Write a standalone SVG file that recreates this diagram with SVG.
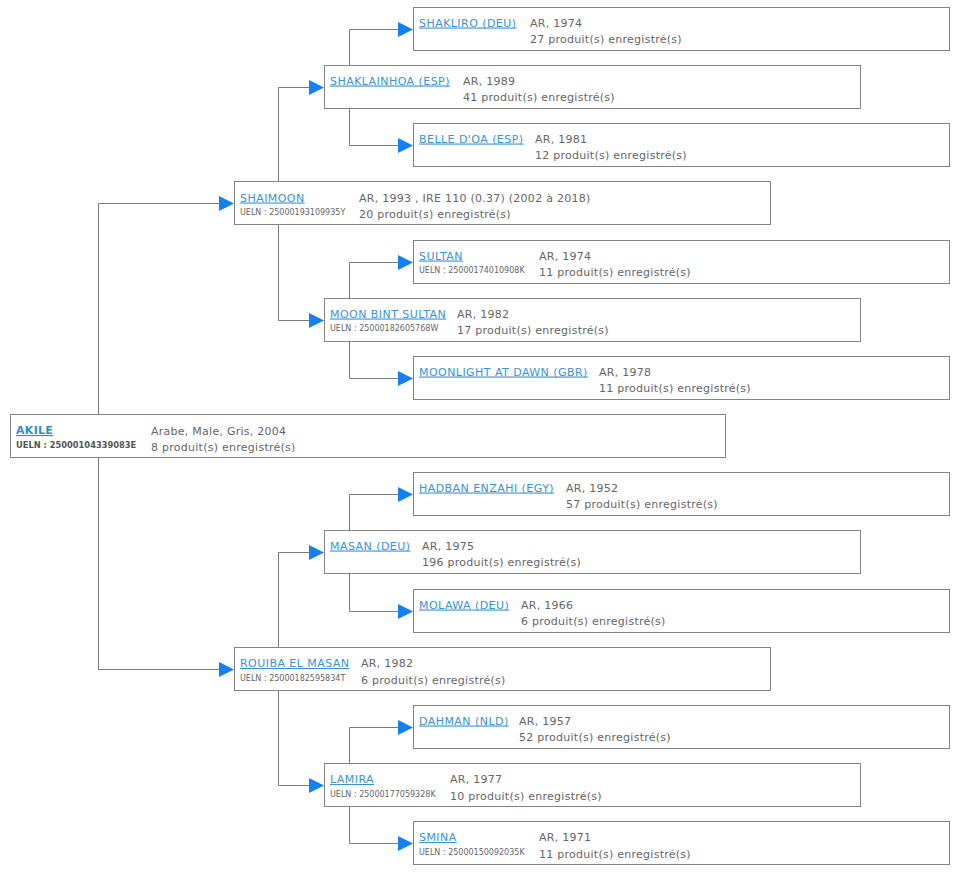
<svg xmlns="http://www.w3.org/2000/svg" width="959" height="876" viewBox="0 0 959 876">
<defs>
<marker id="arr" viewBox="0 0 15 15" refX="0" refY="7.5" markerWidth="15" markerHeight="15" markerUnits="userSpaceOnUse" orient="auto">
<path d="M0 0 L15 7.5 L0 15 Z" fill="#1580ef"/>
</marker>
<style>
.box{fill:#fff;stroke:#848484;stroke-width:1}
.nm{font-family:"DejaVu Sans",Verdana,sans-serif;font-size:11px;letter-spacing:0.45px;fill:#3a93d3;text-decoration:underline}
.nmb{font-family:"DejaVu Sans",Verdana,sans-serif;font-size:11px;letter-spacing:0.3px;font-weight:bold;fill:#2b8fcb;text-decoration:underline}
.in{font-family:"DejaVu Sans",Verdana,sans-serif;font-size:11px;letter-spacing:0.26px;fill:#666}
.ue{font-family:"DejaVu Sans",Verdana,sans-serif;font-size:8px;fill:#666}
.ueb{font-family:"DejaVu Sans",Verdana,sans-serif;font-size:8.3px;font-weight:bold;fill:#555}
.con{fill:none;stroke:#7a7a7a;stroke-width:1;marker-end:url(#arr)}
</style>
</defs>
<rect width="959" height="876" fill="#fff"/>
<g id="connectors">
<path class="con" d="M98.5 414 V203.5 H219"/>
<path class="con" d="M98.5 458 V669.5 H219"/>
<path class="con" d="M278.5 181 V87.5 H309"/>
<path class="con" d="M278.5 225 V320.5 H309"/>
<path class="con" d="M278.5 647 V552.5 H309"/>
<path class="con" d="M278.5 691 V785.5 H309"/>
<path class="con" d="M349.5 65 V29.5 H398"/>
<path class="con" d="M349.5 109 V145.5 H398"/>
<path class="con" d="M349.5 298 V262.5 H398"/>
<path class="con" d="M349.5 342 V378.5 H398"/>
<path class="con" d="M349.5 530 V494.5 H398"/>
<path class="con" d="M349.5 574 V611.5 H398"/>
<path class="con" d="M349.5 763 V727.5 H398"/>
<path class="con" d="M349.5 807 V843.5 H398"/>
</g>
<g id="shakliro">
<rect class="box" x="413.5" y="7.5" width="536" height="43"/>
<text class="nm" x="419" y="26.5">SHAKLIRO (DEU)</text>
<text class="in" x="530" y="26.5">AR, 1974</text>
<text class="in" x="530" y="43">27 produit(s) enregistré(s)</text>
</g>
<g id="shaklainhoa">
<rect class="box" x="324.5" y="65.5" width="536" height="43"/>
<text class="nm" x="330" y="84.5">SHAKLAINHOA (ESP)</text>
<text class="in" x="463" y="84.5">AR, 1989</text>
<text class="in" x="463" y="101">41 produit(s) enregistré(s)</text>
</g>
<g id="belle">
<rect class="box" x="413.5" y="123.5" width="536" height="43"/>
<text class="nm" x="419" y="142.5">BELLE D'OA (ESP)</text>
<text class="in" x="535" y="142.5">AR, 1981</text>
<text class="in" x="535" y="159">12 produit(s) enregistré(s)</text>
</g>
<g id="shaimoon">
<rect class="box" x="234.5" y="181.5" width="536" height="43"/>
<text class="nm" x="240" y="201.5">SHAIMOON</text>
<text class="ue" x="240" y="215">UELN : 25000193109935Y</text>
<text class="in" x="359" y="201.5">AR, 1993 , IRE 110 (0.37) (2002 à 2018)</text>
<text class="in" x="359" y="217.5">20 produit(s) enregistré(s)</text>
</g>
<g id="sultan">
<rect class="box" x="413.5" y="240.5" width="536" height="43"/>
<text class="nm" x="419" y="259.5">SULTAN</text>
<text class="ue" x="419" y="273">UELN : 25000174010908K</text>
<text class="in" x="539" y="259.5">AR, 1974</text>
<text class="in" x="539" y="276">11 produit(s) enregistré(s)</text>
</g>
<g id="moonbintsultan">
<rect class="box" x="324.5" y="298.5" width="536" height="43"/>
<text class="nm" x="330" y="317.5">MOON BINT SULTAN</text>
<text class="ue" x="330" y="331">UELN : 25000182605768W</text>
<text class="in" x="457" y="317.5">AR, 1982</text>
<text class="in" x="457" y="334">17 produit(s) enregistré(s)</text>
</g>
<g id="moonlight">
<rect class="box" x="413.5" y="356.5" width="536" height="43"/>
<text class="nm" x="419" y="375.5">MOONLIGHT AT DAWN (GBR)</text>
<text class="in" x="599" y="375.5">AR, 1978</text>
<text class="in" x="599" y="392">11 produit(s) enregistré(s)</text>
</g>
<g id="akile">
<rect class="box" x="10.5" y="414.5" width="715" height="43"/>
<text class="nmb" x="16" y="434">AKILE</text>
<text class="ueb" x="16" y="447.5">UELN : 25000104339083E</text>
<text class="in" x="151" y="434.5">Arabe, Male, Gris, 2004</text>
<text class="in" x="151" y="451">8 produit(s) enregistré(s)</text>
</g>
<g id="hadban">
<rect class="box" x="413.5" y="472.5" width="536" height="43"/>
<text class="nm" x="419" y="491.5">HADBAN ENZAHI (EGY)</text>
<text class="in" x="566" y="491.5">AR, 1952</text>
<text class="in" x="566" y="508">57 produit(s) enregistré(s)</text>
</g>
<g id="masan">
<rect class="box" x="324.5" y="530.5" width="536" height="43"/>
<text class="nm" x="330" y="549.5">MASAN (DEU)</text>
<text class="in" x="422" y="549.5">AR, 1975</text>
<text class="in" x="422" y="566">196 produit(s) enregistré(s)</text>
</g>
<g id="molawa">
<rect class="box" x="413.5" y="589.5" width="536" height="43"/>
<text class="nm" x="419" y="608.5">MOLAWA (DEU)</text>
<text class="in" x="521" y="608.5">AR, 1966</text>
<text class="in" x="521" y="625">6 produit(s) enregistré(s)</text>
</g>
<g id="rouiba">
<rect class="box" x="234.5" y="647.5" width="536" height="43"/>
<text class="nm" x="240" y="667">ROUIBA EL MASAN</text>
<text class="ue" x="240" y="681">UELN : 25000182595834T</text>
<text class="in" x="361" y="667">AR, 1982</text>
<text class="in" x="361" y="683.5">6 produit(s) enregistré(s)</text>
</g>
<g id="dahman">
<rect class="box" x="413.5" y="705.5" width="536" height="43"/>
<text class="nm" x="419" y="724.5">DAHMAN (NLD)</text>
<text class="in" x="519" y="724.5">AR, 1957</text>
<text class="in" x="519" y="741">52 produit(s) enregistré(s)</text>
</g>
<g id="lamira">
<rect class="box" x="324.5" y="763.5" width="536" height="43"/>
<text class="nm" x="330" y="783">LAMIRA</text>
<text class="ue" x="330" y="797">UELN : 25000177059328K</text>
<text class="in" x="450" y="783">AR, 1977</text>
<text class="in" x="450" y="799.5">10 produit(s) enregistré(s)</text>
</g>
<g id="smina">
<rect class="box" x="413.5" y="821.5" width="536" height="43"/>
<text class="nm" x="419" y="841">SMINA</text>
<text class="ue" x="419" y="855">UELN : 25000150092035K</text>
<text class="in" x="539" y="841">AR, 1971</text>
<text class="in" x="539" y="857.5">11 produit(s) enregistré(s)</text>
</g>
</svg>
